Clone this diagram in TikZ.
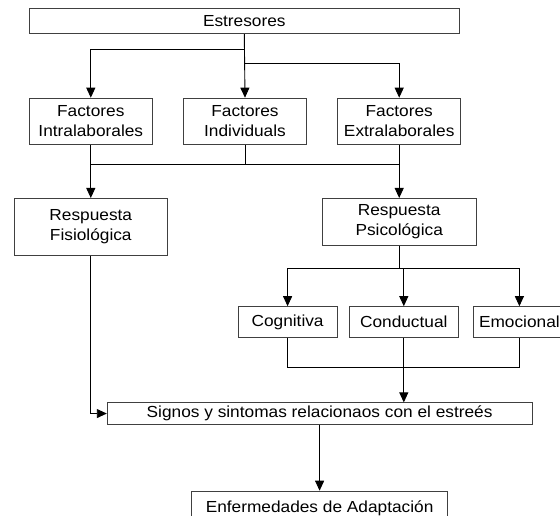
\documentclass[tikz,border=0pt]{standalone}
\usepackage{fontspec}
\setmainfont{Liberation Sans}[FakeStretch=1.08]
\usepackage{tikz}
\usetikzlibrary{arrows.meta, positioning}

\begin{document}
\begin{tikzpicture}[
    x=1pt, y=-1pt,
    txt/.style={rectangle, draw=black!75, line width=0.9pt, fill=white, inner sep=0pt, align=center, font=\fontsize{16}{20}\selectfont},
    mainbox/.style={txt, minimum width=430pt, minimum height=24.7pt},
    factor/.style={txt, minimum width=123pt, minimum height=46.7pt},
    resp/.style={txt, minimum width=153.7pt},
    kind/.style={txt, minimum height=30.7pt},
    >={Triangle[length=10pt,width=9pt]}, line width=0.9pt
]
    \useasboundingbox (0,0) rectangle (560,516);

    \node[mainbox] (estr) at (244.3,21.3) {Estresores};

    % factores
    \node[factor, below right=63.6pt and 0pt of estr.south west] (intra) {Factores\\Intralaborales};
    \node[factor, right=30.3pt of intra] (indiv) {Factores\\Individuals};
    \node[factor, right=30.3pt of indiv] (extra) {Factores\\Extralaborales};

    % respuestas
    \node[resp, minimum height=56.6pt, below=52.7pt of intra] (fisio) {Respuesta\\Fisiológica};
    \node[resp, minimum height=46.6pt, below=52.7pt of extra] (psico) {Respuesta\\Psicológica};

    \node[kind, minimum width=108.4pt, below=60.7pt of psico, xshift=4.6pt] (cond) {Conductual};
    \node[kind, minimum width=99pt, left=11.6pt of cond] (cog) {Cognitiva};
    \node[kind, minimum width=91pt, right=15pt of cond] (emo) {Emocional};

    \node[txt, minimum width=424.7pt, minimum height=21.4pt, below=64.6pt of cond, xshift=-84.2pt] (sig) {Signos y sintomas relacionaos con el estreés};
    \node[txt, minimum width=256pt, minimum height=34pt, below=66pt of sig] (enf) {Enfermedades de Adaptación};

    % edges
    \draw[->] (estr.south) -- (indiv.north);
    \draw[->] ([yshift=-15.3pt]estr.south) -| (intra.north);
    \draw[->] ([yshift=-29pt]estr.south) -| (extra.north);

    \draw (intra.south) -- ++(0,19.3) coordinate (jf) -| (extra.south);
    \draw (indiv.south) -- (indiv.south |- jf);
    \draw[->] (jf) -- (fisio.north);
    \draw[->] (jf -| psico.north) -- (psico.north);

    \draw (psico.south) -- ++(0,22.7) coordinate (jp);
    \draw[->] (jp) -| (cog.north);
    \draw[->] (jp) -| (emo.north);
    \draw[->] (jp -| cond.north) -- (cond.north);

    \draw (cog.south) -- ++(0,29.6) coordinate (jc) -| (emo.south);
    \draw[->] (cond.south) -- (cond.south |- sig.north);
    \draw[->] (fisio.south) |- (sig.west);
    \draw[->] (sig.south) -- (sig.south |- enf.north);
\end{tikzpicture}
\end{document}
